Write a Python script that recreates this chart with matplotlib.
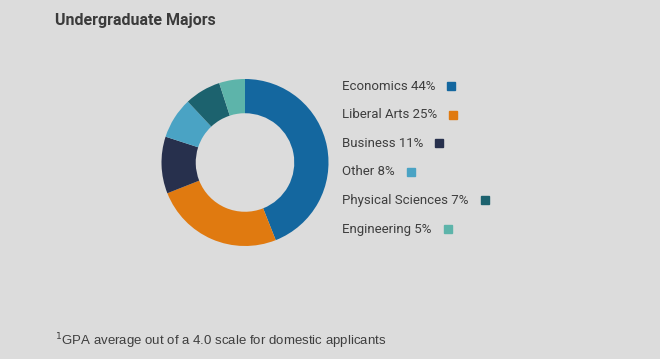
import matplotlib
matplotlib.use("Agg")
import matplotlib.pyplot as plt

categories = ["Economics", "Liberal Arts", "Business", "Other", "Physical Sciences", "Engineering"]
values = [44, 25, 11, 8, 7, 5]
colors = ["#14679f", "#e07a10", "#27304d", "#4aa3c4", "#1c626e", "#5db4aa"]

bg = "#dcdcdc"
fig = plt.figure(figsize=(6.6, 3.59), dpi=100, facecolor=bg)
W, H = 660, 359

cx, cy, r = 245, 162.5, 83.5
ax = fig.add_axes([(cx - r) / W, 1 - (cy + r) / H, 2 * r / W, 2 * r / H])
ax.set_facecolor(bg)
ax.pie(values, colors=colors, startangle=90, counterclock=False,
       wedgeprops=dict(width=0.41, edgecolor="none"), radius=1.0)
ax.set_xlim(-1, 1)
ax.set_ylim(-1, 1)
ax.set_aspect("equal")
ax.axis("off")

fig.text(55 / W, 1 - 21 / H, "Undergraduate Majors", fontsize=11.5, fontweight="bold",
         family="Roboto", color="#3b3b3b", va="center", ha="left")

y0, dy = 86, 28.6
fig.canvas.draw()
for i, (c, v, col) in enumerate(zip(categories, values, colors)):
    y = y0 + i * dy
    t = fig.text(342 / W, 1 - y / H, f"{c} {v}%", fontsize=9.5, family="Roboto",
                 color="#3e3e3e", va="center", ha="left")
    bb = t.get_window_extent(renderer=fig.canvas.get_renderer())
    x1 = bb.x1 + 12
    fig.patches.append(plt.Rectangle((x1 / W, 1 - (y + 4) / H), 8 / W, 8 / H,
                                     transform=fig.transFigure, color=col, figure=fig))

fig.text(55 / W, 1 - 341 / H, r"$^{1}$GPA average out of a 4.0 scale for domestic applicants",
         fontsize=9.5, family="Liberation Sans", color="#3e3e3e", va="center", ha="left")

fig.savefig("out.png", dpi=100, facecolor=bg)
